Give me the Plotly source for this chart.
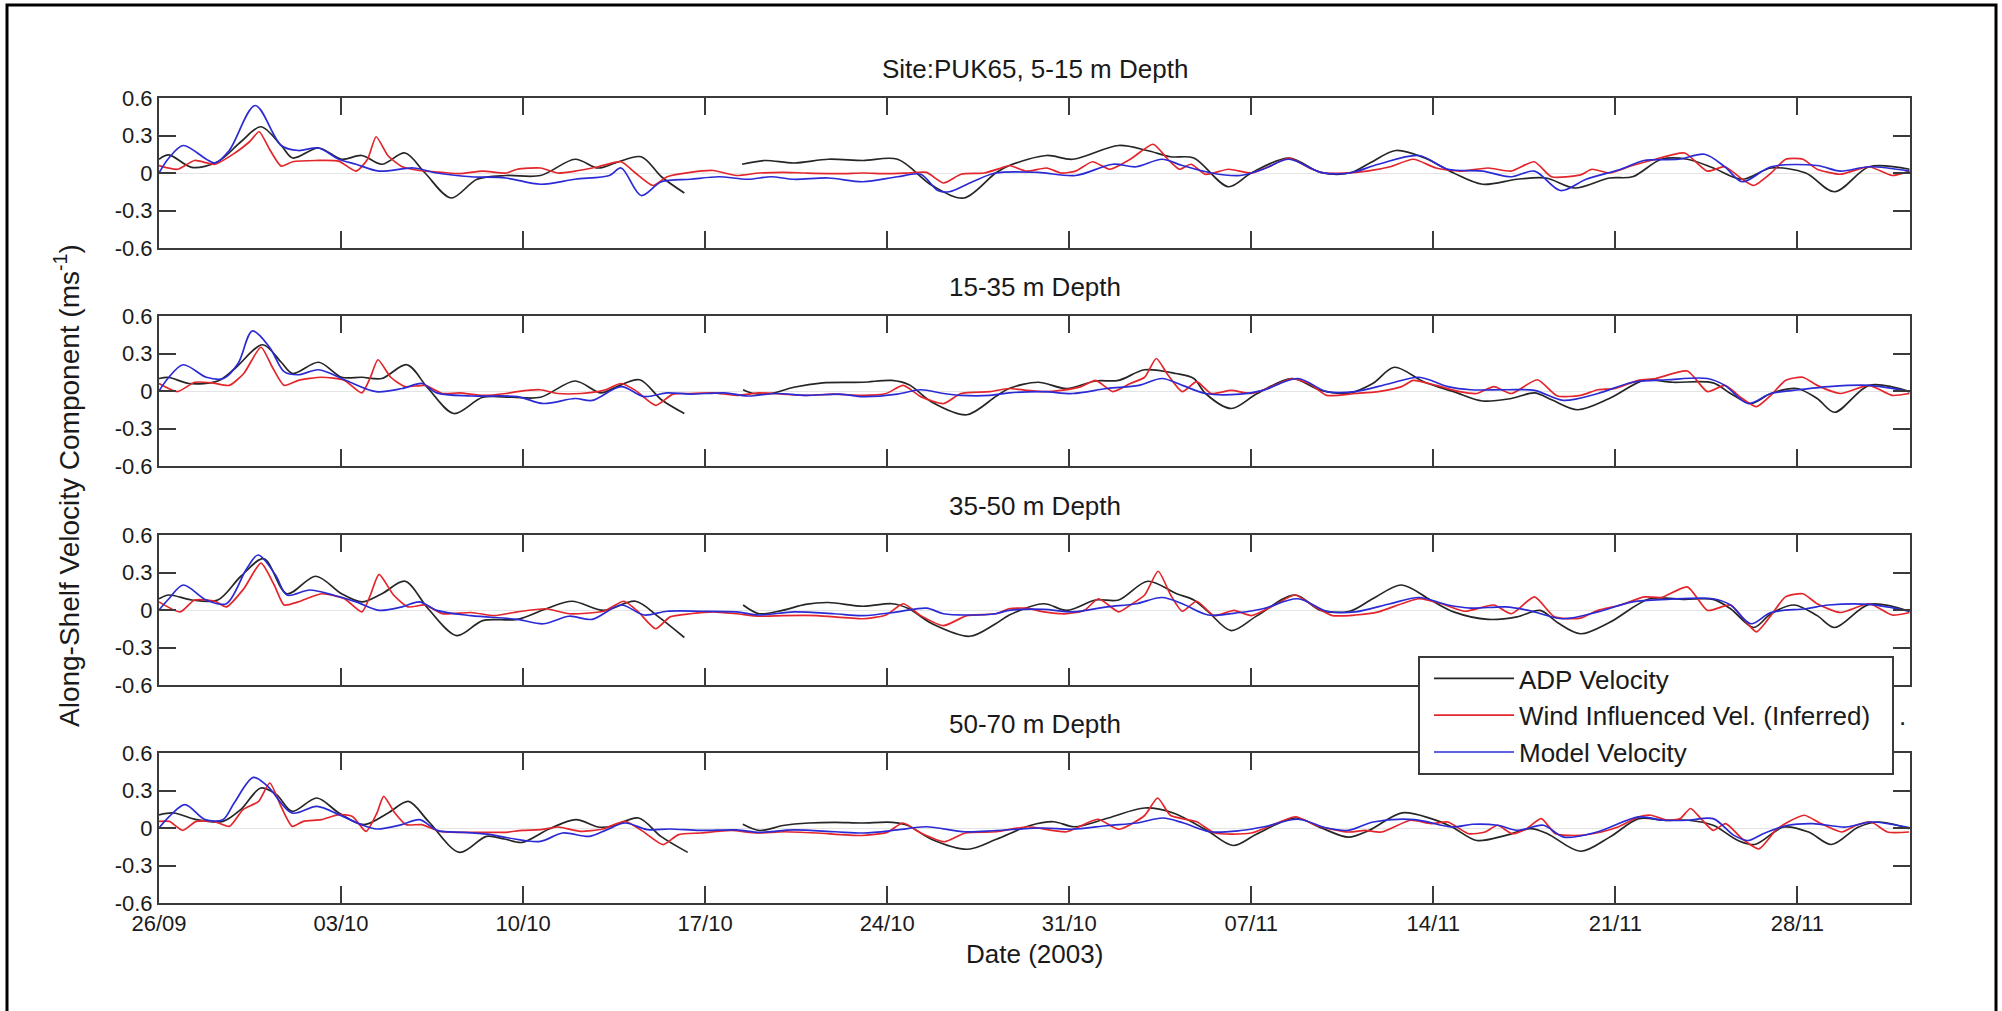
import pandas as pd
import plotly.graph_objects as go

# ---------------------------------------------------------------------------
# Along-shelf velocity at site PUK65, 26 Sep - early Dec 2003
# each series: (days since 26/09/2003, velocity in m/s); None marks a data gap
# ---------------------------------------------------------------------------
START = pd.Timestamp("2003-09-26")
END_DAYS = 67.33

panel_titles = ["Site:PUK65, 5-15 m Depth", "15-35 m Depth", "35-50 m Depth", "50-70 m Depth"]
series_names = ["ADP Velocity", "Wind Influenced Vel. (Inferred)", "Model Velocity"]

# ---- 5-15 m ----
adp_1 = [(0.0, 0.11), (0.38, 0.145), (1.26, 0.045), (2.26, 0.09), (3.15, 0.25), (3.92, 0.37), (4.7, 0.22),
         (5.14, 0.12), (6.14, 0.2), (7.02, 0.11), (7.8, 0.14), (8.57, 0.07), (9.46, 0.16), (10.23, 0.0),
         (11.23, -0.2), (12.23, -0.05), (13.34, -0.02), (14.67, -0.02), (16.0, 0.11), (16.88, 0.04),
         (17.55, 0.08), (18.54, 0.13), (19.32, -0.03), (20.2, -0.16), (21.3, None), (22.42, 0.07),
         (23.3, 0.1), (24.41, 0.08), (25.74, 0.11), (27.07, 0.1), (28.4, 0.11), (29.73, -0.1),
         (30.95, -0.2), (32.17, 0.0), (32.7, 0.06), (34.13, 0.14), (35.13, 0.11), (36.9, 0.22),
         (38.0, 0.18), (38.9, 0.13), (39.79, 0.12), (41.12, -0.11), (42.0, 0.0), (43.45, 0.12),
         (44.67, 0.005), (45.78, 0.0), (46.56, 0.08), (47.56, 0.18), (48.67, 0.12), (49.78, 0.0),
         (50.89, -0.09), (52.22, -0.05), (53.33, -0.04), (54.44, -0.12), (55.77, -0.04), (56.66, -0.03),
         (57.77, 0.11), (58.77, 0.11), (59.77, 0.04), (60.88, -0.05), (61.99, 0.04), (63.32, 0.0),
         (64.43, -0.15), (65.76, 0.05), (67.31, 0.03)]
wind_1 = [(0.0, 0.06), (0.71, 0.03), (1.37, 0.1), (2.15, 0.07), (2.92, 0.16), (3.48, 0.25), (3.85, 0.33),
          (4.25, 0.19), (4.7, 0.055), (5.14, 0.09), (6.03, 0.1), (6.91, 0.095), (7.58, 0.015), (8.02, 0.11),
          (8.35, 0.29), (8.8, 0.14), (9.35, 0.05), (10.01, 0.02), (10.9, 0.005), (11.56, -0.005),
          (12.45, 0.015), (13.34, 0.0), (13.78, 0.03), (14.67, 0.04), (15.33, 0.0), (16.0, 0.015),
          (16.88, 0.05), (17.77, 0.09), (18.32, 0.0), (18.99, -0.1), (19.54, -0.03), (20.43, 0.005),
          (21.31, 0.02), (22.2, -0.02), (23.08, 0.0), (23.97, 0.005), (24.86, 0.0), (26.19, -0.005),
          (27.07, 0.0), (27.96, -0.005), (28.84, 0.0), (29.51, 0.005), (30.17, -0.08), (30.84, -0.01),
          (31.72, 0.0), (32.39, 0.04), (32.7, 0.06), (33.36, 0.015), (34.13, 0.04), (34.69, 0.0),
          (35.24, 0.015), (35.9, 0.09), (36.57, 0.03), (37.35, 0.11), (38.23, 0.23), (38.79, 0.11),
          (39.24, 0.03), (39.68, 0.07), (40.24, -0.01), (41.12, 0.03), (42.01, 0.0), (42.67, 0.05),
          (43.45, 0.12), (44.23, 0.04), (44.79, 0.0), (45.56, 0.0), (46.45, 0.015), (47.34, 0.05),
          (48.23, 0.11), (49.11, 0.04), (50.0, 0.015), (51.11, 0.04), (51.99, 0.015), (52.88, 0.09),
          (53.55, -0.03), (54.66, -0.015), (55.1, 0.03), (55.77, 0.0), (56.66, 0.06), (57.55, 0.11),
          (58.66, 0.16), (59.54, 0.015), (60.21, 0.05), (60.88, -0.05), (61.32, -0.1), (61.99, 0.0),
          (62.55, 0.11), (63.21, 0.11), (63.76, 0.03), (64.65, -0.01), (65.76, 0.05), (66.64, -0.02),
          (67.31, 0.015)]
model_1 = [(0.0, 0.0), (0.38, 0.12), (0.93, 0.22), (1.82, 0.11), (2.15, 0.08), (2.7, 0.18), (3.7, 0.54),
           (4.7, 0.22), (5.36, 0.18), (6.14, 0.2), (6.91, 0.11), (7.58, 0.07), (8.46, 0.015), (9.79, 0.04),
           (10.68, 0.0), (12.0, -0.03), (13.34, -0.04), (14.67, -0.09), (16.0, -0.05), (17.32, -0.02),
           (17.77, 0.04), (18.54, -0.18), (19.32, -0.07), (20.43, -0.05), (21.53, -0.03), (22.64, -0.05),
           (23.53, -0.03), (24.41, -0.05), (25.74, -0.04), (27.07, -0.07), (28.4, -0.03), (29.29, -0.01),
           (29.95, -0.14), (30.39, -0.15), (31.28, -0.07), (32.17, 0.0), (33.8, 0.005), (35.24, -0.02),
           (36.68, 0.07), (37.57, 0.05), (38.57, 0.11), (39.35, 0.06), (40.46, 0.0), (41.57, -0.02),
           (42.45, 0.03), (43.45, 0.11), (44.67, 0.005), (45.78, 0.0), (46.89, 0.07), (48.45, 0.14),
           (49.56, 0.03), (50.89, 0.015), (52.0, -0.03), (52.89, 0.015), (53.89, -0.14), (54.88, -0.05),
           (56.21, 0.03), (57.1, 0.1), (58.43, 0.11), (59.43, 0.15), (60.21, 0.05), (60.88, -0.07),
           (61.99, 0.05), (63.76, 0.06), (64.65, 0.015), (65.76, 0.05), (67.31, 0.015)]

# ---- 15-35 m ----
adp_2 = [(0.0, 0.1), (0.38, 0.108), (1.15, 0.06), (2.26, 0.08), (2.92, 0.18), (3.99, 0.37), (4.7, 0.23),
         (5.14, 0.14), (6.14, 0.23), (7.02, 0.11), (7.8, 0.11), (8.57, 0.1), (9.53, 0.21), (10.35, 0.02),
         (11.34, -0.18), (12.45, -0.05), (13.56, -0.05), (14.67, -0.05), (16.0, 0.08), (16.99, -0.015),
         (17.55, 0.03), (18.48, 0.09), (19.32, -0.07), (20.2, -0.18), (21.3, None), (22.46, 0.01),
         (22.86, -0.02), (23.53, -0.02), (24.41, 0.03), (25.52, 0.065), (27.07, 0.07), (28.18, 0.085),
         (28.84, 0.05), (29.73, -0.09), (31.06, -0.19), (32.2, -0.04), (32.69, 0.02), (33.8, 0.07),
         (34.9, 0.02), (36.0, 0.08), (36.9, 0.085), (37.9, 0.17), (39.1, 0.14), (39.79, 0.1),
         (40.24, -0.02), (41.23, -0.14), (42.23, -0.02), (43.56, 0.1), (44.67, 0.005), (45.78, -0.015),
         (46.67, 0.06), (47.5, 0.19), (48.67, 0.07), (49.78, -0.005), (50.89, -0.08), (52.0, -0.06),
         (52.89, -0.015), (53.55, -0.07), (54.55, -0.15), (55.77, -0.06), (57.1, 0.085), (58.21, 0.07),
         (59.76, 0.065), (60.43, -0.02), (61.21, -0.1), (61.98, -0.02), (62.98, 0.02), (63.76, -0.06),
         (64.43, -0.17), (65.76, 0.045), (67.31, -0.005)]
wind_2 = [(0.0, 0.06), (0.71, -0.005), (1.37, 0.07), (2.04, 0.065), (2.7, 0.045), (3.26, 0.14), (3.92, 0.35),
          (4.36, 0.19), (4.81, 0.045), (5.36, 0.085), (6.25, 0.11), (7.13, 0.085), (7.8, -0.015),
          (8.13, 0.11), (8.42, 0.25), (8.91, 0.11), (9.46, 0.035), (10.23, 0.045), (10.9, -0.02),
          (11.56, -0.015), (12.45, -0.035), (13.34, -0.02), (13.78, -0.005), (14.67, 0.01), (15.33, -0.02),
          (16.22, -0.02), (17.1, 0.005), (17.77, 0.06), (18.32, 0.005), (19.1, -0.115), (19.76, -0.025),
          (20.43, -0.02), (21.31, -0.015), (22.2, -0.035), (23.08, -0.015), (23.97, -0.025), (24.86, -0.035),
          (25.96, -0.025), (27.07, -0.035), (27.96, -0.02), (28.62, 0.045), (29.29, -0.045), (30.17, -0.1),
          (30.84, -0.02), (31.95, -0.005), (32.69, 0.02), (33.36, 0.005), (34.02, -0.005), (34.69, 0.005),
          (35.46, 0.035), (36.02, 0.085), (36.68, -0.005), (37.35, 0.06), (37.9, 0.11), (38.35, 0.26),
          (38.79, 0.13), (39.35, -0.005), (39.9, 0.075), (40.46, -0.02), (41.23, 0.005), (42.01, -0.02),
          (42.9, 0.045), (43.56, 0.1), (44.23, 0.06), (44.9, -0.035), (46.0, -0.02), (46.89, -0.005),
          (47.78, 0.035), (48.23, 0.085), (49.11, 0.045), (50.0, -0.005), (50.67, -0.02), (51.33, 0.035),
          (52.0, -0.02), (53.0, 0.09), (53.77, -0.04), (54.66, -0.035), (55.33, 0.01), (55.99, 0.02),
          (56.88, 0.085), (57.55, 0.1), (58.77, 0.16), (59.54, -0.005), (60.21, 0.045), (60.88, -0.06),
          (61.43, -0.125), (61.98, -0.035), (62.54, 0.085), (63.21, 0.11), (63.76, 0.045), (64.65, -0.02),
          (65.76, 0.045), (66.64, -0.035), (67.31, -0.02)]
model_2 = [(0.0, 0.0), (0.38, 0.11), (0.93, 0.21), (1.82, 0.11), (2.48, 0.1), (3.04, 0.22), (3.59, 0.48),
           (4.25, 0.35), (4.81, 0.155), (5.36, 0.13), (6.14, 0.17), (7.13, 0.09), (8.35, -0.005),
           (9.35, 0.02), (10.12, 0.06), (10.68, -0.015), (12.0, -0.04), (13.78, -0.045), (14.78, -0.1),
           (16.0, -0.06), (16.66, -0.075), (17.77, 0.035), (18.65, -0.045), (19.54, -0.015), (20.43, -0.025),
           (21.75, -0.015), (22.64, -0.04), (23.75, -0.02), (24.86, -0.035), (26.19, -0.025), (27.07, -0.045),
           (28.4, -0.025), (29.29, 0.01), (30.17, -0.02), (30.84, -0.035), (31.95, -0.035), (32.69, -0.015),
           (34.02, -0.005), (35.13, -0.02), (36.46, 0.02), (37.68, 0.045), (38.57, 0.1), (39.35, 0.045),
           (40.24, -0.02), (41.57, -0.025), (42.45, 0.005), (43.79, 0.1), (44.9, -0.005), (46.0, -0.005),
           (47.34, 0.06), (48.45, 0.11), (49.56, 0.035), (50.44, 0.01), (51.78, 0.01), (52.89, 0.005),
           (54.0, -0.075), (55.33, -0.02), (56.66, 0.07), (57.99, 0.09), (59.54, 0.1), (60.21, 0.045),
           (61.1, -0.1), (61.98, -0.02), (63.09, 0.01), (64.2, 0.035), (65.76, 0.045), (67.31, -0.005)]

# ---- 35-50 m ----
adp_3 = [(0.0, 0.09), (0.38, 0.12), (1.26, 0.08), (2.26, 0.08), (3.15, 0.27), (4.03, 0.41), (4.92, 0.13),
         (6.03, 0.27), (7.02, 0.13), (7.8, 0.065), (8.57, 0.13), (9.46, 0.23), (10.35, 0.01), (11.45, -0.205),
         (12.45, -0.085), (13.78, -0.075), (14.89, 0.01), (15.88, 0.07), (17.1, -0.003), (18.32, 0.07),
         (19.21, -0.055), (20.2, -0.22), (21.3, None), (22.46, 0.04), (23.08, -0.03), (23.97, -0.003),
         (24.86, 0.045), (25.74, 0.06), (27.07, 0.03), (28.18, 0.05), (28.84, 0.01), (29.73, -0.11),
         (31.17, -0.21), (32.17, -0.11), (32.7, -0.04), (34.02, 0.05), (34.91, -0.003), (36.02, 0.08),
         (36.9, 0.08), (38.02, 0.23), (39.13, 0.13), (39.79, 0.08), (40.35, -0.015), (41.23, -0.165),
         (42.23, -0.045), (43.68, 0.12), (44.67, -0.003), (45.78, -0.01), (46.67, 0.09), (47.78, 0.2),
         (48.89, 0.08), (49.78, -0.015), (51.11, -0.075), (52.22, -0.055), (53.11, -0.003), (53.77, -0.1),
         (54.66, -0.19), (55.77, -0.1), (57.32, 0.09), (58.66, 0.085), (59.76, 0.085), (60.43, 0.01),
         (61.32, -0.14), (61.98, -0.03), (62.87, 0.04), (63.76, -0.045), (64.43, -0.14), (65.76, 0.045),
         (67.31, -0.01)]
wind_3 = [(0.0, 0.065), (0.82, -0.015), (1.37, 0.08), (2.15, 0.07), (2.59, 0.025), (3.26, 0.17), (3.92, 0.375),
          (4.43, 0.2), (4.81, 0.04), (5.36, 0.065), (6.25, 0.13), (7.13, 0.09), (7.8, -0.015), (8.13, 0.12),
          (8.46, 0.285), (9.02, 0.12), (9.57, 0.025), (10.23, 0.04), (10.9, -0.03), (12.0, -0.02),
          (12.89, -0.045), (13.78, -0.015), (14.89, 0.01), (15.77, -0.03), (17.1, -0.01), (17.88, 0.07),
          (18.43, -0.015), (19.1, -0.15), (19.65, -0.055), (20.43, -0.03), (21.31, -0.015), (22.2, -0.03),
          (23.08, -0.05), (23.97, -0.045), (25.3, -0.045), (27.07, -0.07), (27.96, -0.04), (28.62, 0.05),
          (29.29, -0.045), (30.17, -0.125), (31.06, -0.045), (32.17, -0.03), (32.69, 0.01), (33.36, 0.015),
          (34.02, -0.015), (34.91, -0.03), (35.58, -0.003), (36.13, 0.09), (36.9, -0.015), (37.35, 0.04),
          (37.9, 0.12), (38.42, 0.31), (38.9, 0.12), (39.35, -0.01), (39.9, 0.07), (40.57, -0.045),
          (41.34, -0.003), (42.01, -0.045), (42.9, 0.04), (43.68, 0.12), (44.45, 0.025), (45.12, -0.045),
          (46.0, -0.04), (46.89, -0.015), (47.78, 0.05), (48.45, 0.09), (49.33, 0.05), (50.22, -0.01),
          (51.33, 0.04), (52.0, -0.03), (52.89, 0.105), (53.66, -0.055), (54.66, -0.065), (55.33, -0.003),
          (56.21, 0.04), (57.1, 0.105), (57.77, 0.1), (58.77, 0.185), (59.54, -0.003), (60.43, 0.04),
          (60.98, -0.085), (61.43, -0.175), (61.98, -0.045), (62.54, 0.105), (63.21, 0.13), (63.76, 0.05),
          (64.65, -0.02), (65.76, 0.05), (66.64, -0.04), (67.31, -0.02)]
model_3 = [(0.0, 0.0), (0.38, 0.09), (0.93, 0.2), (1.82, 0.08), (2.59, 0.05), (3.37, 0.33), (3.81, 0.44),
           (4.48, 0.28), (4.92, 0.12), (5.8, 0.16), (6.69, 0.12), (7.58, 0.065), (8.46, -0.003), (9.35, 0.025),
           (10.01, 0.065), (10.68, -0.003), (12.0, -0.045), (13.78, -0.075), (14.78, -0.11), (15.77, -0.05),
           (16.66, -0.075), (17.77, 0.04), (18.65, -0.04), (19.54, -0.01), (20.87, -0.01), (22.2, -0.015),
           (23.08, -0.04), (24.41, -0.015), (25.96, -0.03), (27.07, -0.045), (28.4, -0.015), (29.51, 0.015),
           (30.17, -0.03), (31.06, -0.04), (32.17, -0.03), (32.69, -0.003), (34.02, 0.005), (35.13, -0.015),
           (36.46, 0.025), (37.57, 0.05), (38.57, 0.1), (39.35, 0.05), (40.35, -0.04), (41.57, -0.02),
           (42.45, 0.01), (43.79, 0.09), (44.9, -0.01), (46.0, -0.015), (47.34, 0.05), (48.45, 0.1),
           (49.56, 0.04), (50.44, 0.015), (51.78, 0.025), (52.66, -0.003), (54.0, -0.07), (55.33, -0.015),
           (56.66, 0.065), (57.99, 0.085), (59.76, 0.09), (60.43, 0.04), (61.21, -0.11), (61.98, -0.02),
           (63.32, 0.01), (64.2, 0.04), (65.76, 0.045), (67.31, -0.01)]

# ---- 50-70 m ----
adp_4 = [(0.0, 0.105), (0.57, 0.12), (1.43, 0.067), (2.46, 0.053), (3.14, 0.147), (3.92, 0.32), (4.52, 0.267),
         (5.12, 0.133), (6.07, 0.24), (6.92, 0.12), (7.87, 0.027), (8.81, 0.12), (9.59, 0.213), (10.36, 0.053),
         (11.56, -0.195), (12.59, -0.067), (13.28, -0.088), (13.97, -0.115), (15.0, -0.008), (16.03, 0.067),
         (16.89, 0.008), (17.4, 0.013), (18.44, 0.08), (19.3, -0.067), (20.33, -0.195), (21.3, None),
         (22.45, 0.03), (23.1, -0.02), (24.0, 0.02), (25.0, 0.04), (26.0, 0.045), (27.0, 0.04), (28.2, 0.045),
         (28.8, 0.02), (29.7, -0.09), (31.1, -0.17), (32.2, -0.09), (33.5, 0.02), (34.4, 0.05), (35.2, 0.01),
         (36.5, 0.08), (37.9, 0.16), (39.0, 0.12), (40.3, -0.02), (41.3, -0.14), (42.2, -0.05), (43.7, 0.08),
         (44.7, 0.0), (45.73, -0.073), (46.53, -0.019), (47.8, 0.121), (48.92, 0.075), (49.72, 0.008),
         (50.67, -0.1), (51.79, -0.059), (52.75, -0.005), (53.39, -0.046), (54.66, -0.186), (55.78, -0.073),
         (56.9, 0.075), (57.85, 0.062), (58.81, 0.062), (59.76, 0.022), (60.72, -0.1), (61.36, -0.132),
         (62.48, 0.008), (63.43, -0.032), (64.31, -0.132), (65.35, 0.008), (66.15, 0.048), (67.29, -0.005)]
wind_4 = [(0.0, 0.053), (0.4, 0.053), (0.91, -0.019), (1.43, 0.053), (2.11, 0.053), (2.71, 0.013), (3.23, 0.147),
          (3.83, 0.213), (4.26, 0.36), (4.69, 0.173), (5.12, 0.013), (5.55, 0.053), (6.24, 0.067), (6.92, 0.107),
          (7.44, 0.093), (7.96, -0.027), (8.38, 0.12), (8.64, 0.253), (9.07, 0.12), (9.5, 0.027), (10.1, 0.027),
          (10.79, -0.027), (11.56, -0.035), (12.59, -0.035), (13.28, -0.035), (13.97, -0.019), (14.66, -0.013),
          (15.34, 0.008), (16.2, -0.027), (17.06, -0.008), (17.92, 0.053), (18.61, -0.027), (19.38, -0.133),
          (19.98, -0.053), (20.81, -0.04), (22.0, -0.02), (23.0, -0.04), (24.0, -0.03), (25.3, -0.04),
          (27.0, -0.06), (28.0, -0.035), (28.6, 0.04), (29.3, -0.04), (30.2, -0.11), (31.0, -0.04),
          (32.2, -0.03), (33.4, 0.01), (34.9, -0.03), (36.1, 0.07), (36.9, -0.01), (37.9, 0.1), (38.4, 0.24),
          (38.9, 0.1), (39.9, 0.05), (40.6, -0.04), (42.0, -0.04), (43.7, 0.09), (44.5, 0.02), (45.73, -0.032),
          (46.37, -0.019), (47.01, -0.032), (48.12, 0.062), (48.92, 0.035), (49.56, 0.048), (50.36, -0.046),
          (50.99, -0.032), (51.47, 0.022), (52.03, -0.046), (52.59, -0.005), (53.15, 0.075), (53.7, -0.046),
          (54.66, -0.059), (55.46, -0.032), (56.1, 0.008), (56.9, 0.089), (57.37, 0.102), (58.01, 0.062),
          (58.49, 0.075), (58.89, 0.156), (59.29, 0.075), (59.76, -0.019), (60.24, 0.035), (60.88, -0.086),
          (61.52, -0.167), (62.16, -0.019), (62.64, 0.048), (63.27, 0.102), (63.91, 0.035), (64.71, -0.032),
          (65.27, 0.022), (65.83, 0.048), (66.46, -0.032), (67.29, -0.032)]
model_4 = [(0.0, 0.0), (0.4, 0.093), (1.0, 0.187), (1.77, 0.067), (2.46, 0.067), (2.89, 0.2), (3.63, 0.405),
           (4.18, 0.333), (5.12, 0.12), (6.07, 0.173), (6.92, 0.107), (7.78, 0.027), (8.38, -0.008), (9.33, 0.027),
           (10.02, 0.067), (10.7, -0.019), (11.74, -0.035), (12.77, -0.053), (13.45, -0.08), (14.66, -0.107),
           (15.52, -0.04), (16.55, -0.067), (17.23, -0.013), (17.92, 0.04), (18.78, -0.013), (19.64, -0.008),
           (20.81, -0.019), (22.2, -0.015), (23.1, -0.035), (24.4, -0.015), (26.0, -0.03), (27.1, -0.04),
           (28.4, -0.015), (29.5, 0.01), (31.0, -0.03), (32.2, -0.02), (34.0, 0.0), (35.1, -0.01), (36.5, 0.02),
           (37.6, 0.04), (38.6, 0.08), (39.4, 0.04), (40.4, -0.03), (41.6, -0.02), (42.5, 0.01), (43.8, 0.07),
           (44.9, 0.0), (45.73, -0.019), (46.69, 0.048), (48.28, 0.067), (49.72, 0.008), (50.51, 0.03),
           (51.47, 0.022), (52.27, -0.019), (53.23, 0.022), (54.02, -0.073), (55.3, -0.032), (56.9, 0.089),
           (57.85, 0.062), (58.81, 0.062), (59.76, 0.075), (60.56, -0.059), (61.12, -0.1), (61.68, -0.046),
           (62.64, 0.022), (63.59, 0.035), (64.87, 0.008), (65.83, 0.048), (67.29, 0.003)]

panels = [(adp_1, wind_1, model_1), (adp_2, wind_2, model_2),
          (adp_3, wind_3, model_3), (adp_4, wind_4, model_4)]

# ---------------------------------------------------------------------------
# styling
# ---------------------------------------------------------------------------
W, H = 2002, 1011
FONT = "Liberation Sans, Arial, Helvetica, sans-serif"
TXT = "#1a1a1a"
AX = "#3a3a3a"
line_colors = ["#262626", "#e3262b", "#2b2bd6"]
smooth = [0.9, 0.6, 0.9]

X_LEFT, X_RIGHT = 159, 1910          # plot-area edges in px
PANEL_TOPS = [98, 316, 535, 753]     # px from top
PANEL_H = 150
LEGEND_BOX = (1419, 657, 1893, 774)  # left, top, right, bottom in px


def px_x(v):
    return v / W


def px_y(v):
    return 1 - v / H


def to_dates(days):
    return [START + pd.Timedelta(days=d) for d in days]


fig = go.Figure()

for i, series in enumerate(panels):
    ax = "" if i == 0 else str(i + 1)
    for j, (pts, name) in enumerate(zip(series, series_names)):
        days = [p[0] for p in pts]
        vals = [p[1] for p in pts]
        fig.add_trace(go.Scatter(
            x=to_dates(days), y=vals, mode="lines", name=name,
            line=dict(color=line_colors[j], width=1.7, shape="spline", smoothing=smooth[j]),
            connectgaps=False, showlegend=(i == 3),
            xaxis="x" + ax, yaxis="y" + ax, hoverinfo="skip",
        ))

x_range = [START, START + pd.Timedelta(days=END_DAYS)]
layout = dict(
    width=W, height=H, autosize=False,
    margin=dict(l=0, r=0, t=0, b=0, pad=0, autoexpand=False),
    paper_bgcolor="white", plot_bgcolor="white",
    font=dict(family=FONT, size=24, color=TXT),
    showlegend=True,
    legend=dict(
        x=px_x(LEGEND_BOX[0] + 10), xanchor="left", y=px_y(LEGEND_BOX[1] - 2), yanchor="top",
        bgcolor="rgba(0,0,0,0)", borderwidth=0,
        font=dict(family=FONT, size=26, color=TXT),
        itemwidth=80, traceorder="normal", tracegroupgap=0,
    ),
)

for i in range(4):
    ax = "" if i == 0 else str(i + 1)
    top = PANEL_TOPS[i]
    layout["xaxis" + ax] = dict(
        domain=[px_x(X_LEFT), px_x(X_RIGHT)], anchor="y" + ax,
        type="date", range=x_range, automargin=False,
        tick0=START, dtick=7 * 86400000, tickformat="%d/%m",
        ticks="inside", ticklen=17, tickwidth=2, tickcolor=AX,
        showline=True, linecolor=AX, linewidth=2, mirror="ticks",
        showgrid=False, zeroline=False,
        showticklabels=(i == 3), ticklabelstandoff=0,
        tickfont=dict(family=FONT, size=22, color=TXT),
    )
    if i > 0:
        layout["xaxis" + ax]["matches"] = "x"
    layout["yaxis" + ax] = dict(
        domain=[px_y(top + PANEL_H), px_y(top)], anchor="x" + ax,
        range=[-0.6, 0.6], automargin=False,
        tickvals=[-0.6, -0.3, 0, 0.3, 0.6],
        ticktext=["-0.6", "-0.3", "0", "0.3", "0.6"],
        ticks="inside", ticklen=17, tickwidth=2, tickcolor=AX,
        showline=True, linecolor=AX, linewidth=2, mirror="ticks",
        showgrid=False,
        zeroline=True, zerolinecolor="#e4e4e4", zerolinewidth=1,
        tickfont=dict(family=FONT, size=22, color=TXT),
    )

fig.update_layout(**layout)

annotations = []
x_mid = px_x((X_LEFT + X_RIGHT) / 2)
for i, title in enumerate(panel_titles):
    annotations.append(dict(
        text=title, x=x_mid, y=px_y(PANEL_TOPS[i] - 29), xref="paper", yref="paper",
        xanchor="center", yanchor="middle", showarrow=False,
        font=dict(family=FONT, size=26, color=TXT),
    ))
annotations.append(dict(
    text="Date (2003)", x=x_mid, y=px_y(954), xref="paper", yref="paper",
    xanchor="center", yanchor="middle", showarrow=False,
    font=dict(family=FONT, size=26, color=TXT),
))
annotations.append(dict(
    text="Along-Shelf Velocity Component (ms<sup>-1</sup>)", textangle=-90,
    x=px_x(67), y=px_y(486), xref="paper", yref="paper",
    xanchor="center", yanchor="middle", showarrow=False,
    font=dict(family=FONT, size=28, color=TXT),
))
annotations.append(dict(
    text=".", x=px_x(1897), y=px_y(716), xref="paper", yref="paper",
    xanchor="left", yanchor="middle", showarrow=False,
    font=dict(family=FONT, size=26, color=TXT),
))
fig.update_layout(annotations=annotations)

# legend frame (white box under the legend entries)
fig.add_shape(type="rect", xref="paper", yref="paper",
              x0=px_x(LEGEND_BOX[0]), x1=px_x(LEGEND_BOX[2]),
              y0=px_y(LEGEND_BOX[3]), y1=px_y(LEGEND_BOX[1]),
              line=dict(color=AX, width=2), fillcolor="white", layer="above")

# outer figure frame
fig.add_shape(type="rect", xref="paper", yref="paper",
              x0=px_x(7), x1=px_x(1996), y0=-0.02, y1=px_y(5),
              line=dict(color="black", width=3), fillcolor="rgba(0,0,0,0)", layer="above")

fig.write_html("out.html")
